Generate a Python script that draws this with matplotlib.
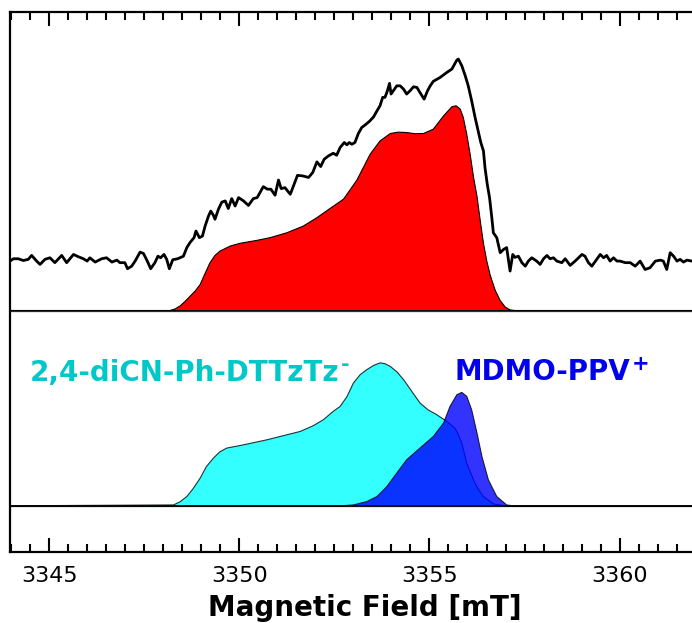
import matplotlib
matplotlib.use("Agg")
import matplotlib.pyplot as plt
import numpy as np

# ---- experimental trace (field in mT, intensity in a.u.) ----
exp_field = [3343.97, 3344.06, 3344.19, 3344.32, 3344.45, 3344.54, 3344.67, 3344.76, 3344.89, 3345.02,
             3345.15, 3345.33, 3345.46, 3345.64, 3345.77, 3345.90, 3346.00, 3346.07, 3346.21, 3346.38,
             3346.51, 3346.65, 3346.78, 3346.86, 3346.99, 3347.06, 3347.17, 3347.26, 3347.39, 3347.48,
             3347.58, 3347.67, 3347.78, 3347.86, 3347.93, 3348.02, 3348.09, 3348.16, 3348.25, 3348.38,
             3348.53, 3348.62, 3348.70, 3348.81, 3348.86, 3348.95, 3349.03, 3349.10, 3349.19, 3349.25,
             3349.32, 3349.36, 3349.45, 3349.54, 3349.63, 3349.71, 3349.80, 3349.89, 3349.98, 3350.11,
             3350.24, 3350.37, 3350.47, 3350.63, 3350.74, 3350.83, 3350.94, 3351.03, 3351.10, 3351.20,
             3351.34, 3351.44, 3351.53, 3351.67, 3351.82, 3351.93, 3352.04, 3352.14, 3352.23, 3352.34,
             3352.47, 3352.56, 3352.65, 3352.76, 3352.83, 3352.89, 3352.96, 3353.04, 3353.13, 3353.22,
             3353.31, 3353.42, 3353.53, 3353.62, 3353.70, 3353.77, 3353.83, 3353.89, 3353.95, 3353.99,
             3354.05, 3354.14, 3354.23, 3354.32, 3354.40, 3354.49, 3354.58, 3354.67, 3354.75, 3354.86,
             3354.95, 3355.02, 3355.10, 3355.28, 3355.46, 3355.59, 3355.72, 3355.76, 3355.85, 3355.94,
             3356.02, 3356.11, 3356.20, 3356.29, 3356.35, 3356.42, 3356.46, 3356.52, 3356.58, 3356.64,
             3356.68, 3356.77, 3356.86, 3356.95, 3357.03, 3357.12, 3357.19, 3357.25, 3357.34, 3357.43,
             3357.52, 3357.60, 3357.69, 3357.82, 3357.91, 3358.00, 3358.09, 3358.17, 3358.26, 3358.35,
             3358.48, 3358.57, 3358.70, 3358.83, 3358.92, 3359.01, 3359.09, 3359.18, 3359.27, 3359.40,
             3359.49, 3359.58, 3359.66, 3359.75, 3359.84, 3359.93, 3360.01, 3360.15, 3360.28, 3360.41,
             3360.54, 3360.67, 3360.80, 3360.94, 3361.07, 3361.15, 3361.24, 3361.33, 3361.42, 3361.51,
             3361.59, 3361.68, 3361.77, 3361.90]
exp_int = [1.253, 1.265, 1.265, 1.256, 1.262, 1.282, 1.253, 1.236, 1.262, 1.270,
           1.245, 1.282, 1.245, 1.287, 1.275, 1.265, 1.253, 1.270, 1.248, 1.265,
           1.270, 1.248, 1.258, 1.245, 1.245, 1.214, 1.227, 1.253, 1.299, 1.292,
           1.253, 1.214, 1.245, 1.278, 1.270, 1.287, 1.262, 1.214, 1.260, 1.265,
           1.278, 1.322, 1.347, 1.373, 1.407, 1.373, 1.381, 1.432, 1.484, 1.509,
           1.487, 1.467, 1.518, 1.555, 1.561, 1.522, 1.573, 1.535, 1.578, 1.561,
           1.538, 1.573, 1.578, 1.634, 1.621, 1.621, 1.590, 1.668, 1.624, 1.629,
           1.595, 1.646, 1.692, 1.689, 1.681, 1.706, 1.761, 1.737, 1.774, 1.791,
           1.805, 1.795, 1.834, 1.860, 1.848, 1.860, 1.851, 1.860, 1.906, 1.937,
           1.950, 1.968, 1.991, 2.022, 2.048, 2.091, 2.091, 2.122, 2.163, 2.108,
           2.125, 2.150, 2.150, 2.133, 2.108, 2.125, 2.145, 2.142, 2.116, 2.082,
           2.125, 2.150, 2.173, 2.193, 2.219, 2.236, 2.282, 2.287, 2.253, 2.202,
           2.150, 2.073, 1.988, 1.911, 1.860, 1.817, 1.732, 1.646, 1.578, 1.475,
           1.398, 1.373, 1.296, 1.313, 1.322, 1.202, 1.287, 1.272, 1.278, 1.245,
           1.227, 1.253, 1.270, 1.253, 1.236, 1.265, 1.282, 1.265, 1.270, 1.253,
           1.245, 1.265, 1.231, 1.253, 1.270, 1.287, 1.278, 1.245, 1.227, 1.262,
           1.287, 1.270, 1.282, 1.253, 1.270, 1.253, 1.253, 1.245, 1.245, 1.227,
           1.253, 1.210, 1.219, 1.253, 1.258, 1.253, 1.210, 1.296, 1.278, 1.253,
           1.262, 1.248, 1.258, 1.253]

# ---- simulated total spectrum (red), drawn on offset 1 ----
sim_field = [3343.5, 3348.18, 3348.31, 3348.44, 3348.57, 3348.70, 3348.84, 3348.97, 3349.10, 3349.23,
             3349.36, 3349.49, 3349.76, 3350.02, 3350.46, 3350.81, 3351.25, 3351.68, 3352.04, 3352.39,
             3352.74, 3353.09, 3353.44, 3353.70, 3353.97, 3354.18, 3354.40, 3354.62, 3354.84, 3355.10,
             3355.37, 3355.59, 3355.70, 3355.81, 3355.89, 3355.98, 3356.07, 3356.16, 3356.25, 3356.33,
             3356.42, 3356.51, 3356.60, 3356.73, 3356.86, 3356.99, 3357.12, 3357.25, 3363.0]
sim_int = [0, 0, 0.008, 0.023, 0.046, 0.072, 0.100, 0.133, 0.190, 0.245,
           0.282, 0.304, 0.330, 0.344, 0.359, 0.373, 0.398, 0.432, 0.475, 0.523,
           0.570, 0.667, 0.800, 0.868, 0.906, 0.913, 0.911, 0.905, 0.906, 0.928,
           0.996, 1.043, 1.048, 1.031, 0.988, 0.903, 0.800, 0.681, 0.585, 0.467,
           0.344, 0.251, 0.179, 0.103, 0.051, 0.018, 0.003, 0, 0]
sim_offset = 1.0

# ---- component: 2,4-diCN-Ph-DTTzTz^- (cyan) ----
acc_field = [3343.5, 3348.27, 3348.44, 3348.62, 3348.78, 3348.97, 3349.13, 3349.32, 3349.49, 3349.67,
             3350.02, 3350.72, 3351.60, 3351.94, 3352.21, 3352.47, 3352.65, 3352.83, 3353.00, 3353.18,
             3353.35, 3353.53, 3353.70, 3353.83, 3353.97, 3354.14, 3354.32, 3354.54, 3354.75, 3354.96,
             3355.19, 3355.46, 3355.67, 3355.75, 3355.85, 3355.98, 3356.16, 3356.28, 3356.42, 3356.68,
             3357.03, 3363.0]
acc_int = [0, 0.005, 0.021, 0.048, 0.087, 0.142, 0.200, 0.245, 0.277, 0.296,
           0.309, 0.338, 0.381, 0.410, 0.441, 0.484, 0.509, 0.559, 0.629, 0.672,
           0.697, 0.719, 0.732, 0.728, 0.714, 0.687, 0.646, 0.585, 0.527, 0.492,
           0.467, 0.432, 0.398, 0.369, 0.322, 0.219, 0.133, 0.087, 0.048, 0.010,
           0, 0]

# ---- component: MDMO-PPV^+ (blue) ----
don_field = [3343.5, 3352.65, 3353.00, 3353.35, 3353.62, 3353.88, 3354.14, 3354.40, 3354.75, 3355.10,
             3355.37, 3355.54, 3355.72, 3355.85, 3355.98, 3356.11, 3356.25, 3356.38, 3356.55, 3356.77,
             3357.03, 3357.21, 3363.0]
don_int = [0, 0, 0.005, 0.022, 0.048, 0.099, 0.168, 0.236, 0.296, 0.355,
           0.424, 0.509, 0.569, 0.581, 0.561, 0.492, 0.373, 0.253, 0.133, 0.048,
           0.005, 0, 0]

xticks = [3345, 3350, 3355, 3360]
xlabel = "Magnetic Field [mT]"
label_acc = "2,4-diCN-Ph-DTTzTz"
sup_acc = "-"
label_don = "MDMO-PPV"
sup_don = "+"
col_acc = "#00c8c8"
col_don = "#0000ee"

fig = plt.figure(figsize=(6.92, 6.23), dpi=100)
ax = fig.add_axes([10 / 692, 71 / 623, 710 / 692, 540 / 623])

ax.axhline(sim_offset, color="#333333", lw=0.9, zorder=1)
ax.axhline(0, color="#333333", lw=0.9, zorder=1)

ax.fill_between(sim_field, sim_offset, sim_offset + np.array(sim_int), facecolor="#ff0000",
                edgecolor="black", lw=0.8, zorder=2)
ax.fill_between(acc_field, 0, acc_int, facecolor="#00ffff", alpha=0.8, edgecolor="black", lw=0.8, zorder=3)
ax.fill_between(don_field, 0, don_int, facecolor="#0000ff", alpha=0.8, edgecolor="black", lw=0.8, zorder=4)

ax.plot(exp_field, exp_int, color="black", lw=2.0, zorder=5)

t1 = ax.text(3344.5, 0.637, label_acc, color=col_acc, fontsize=20, fontweight="bold",
             ha="left", va="baseline")
ax.annotate(sup_acc, xy=(1, 1), xycoords=t1, xytext=(1.0, -8.0), textcoords="offset points",
            color=col_acc, fontsize=15, fontweight="bold", ha="left", va="baseline")
t2 = ax.text(3355.67, 0.645, label_don, color=col_don, fontsize=20, fontweight="bold",
             ha="left", va="baseline")
ax.annotate(sup_don, xy=(1, 1), xycoords=t2, xytext=(0.5, -9.0), textcoords="offset points",
            color=col_don, fontsize=15, fontweight="bold", ha="left", va="baseline")

ax.set_xlim(3343.97, 3362.64)
ax.set_ylim(-0.236, 2.528)
ax.set_yticks([])
ax.set_xticks(xticks)
ax.set_xticklabels([str(t) for t in xticks])
ax.set_xticks(np.arange(3344, 3363, 0.5), minor=True)
ax.tick_params(axis="x", which="both", direction="in", top=True, bottom=True, labelsize=16, pad=10, width=1.5)
ax.tick_params(axis="x", which="major", length=10)
ax.tick_params(axis="x", which="minor", length=5.5)
for s in ["left", "top", "bottom"]:
    ax.spines[s].set_linewidth(1.6)
ax.spines["right"].set_visible(False)
ax.set_xlabel(xlabel, fontsize=20, fontweight="bold", labelpad=6)

fig.savefig("out.png", dpi=100)
